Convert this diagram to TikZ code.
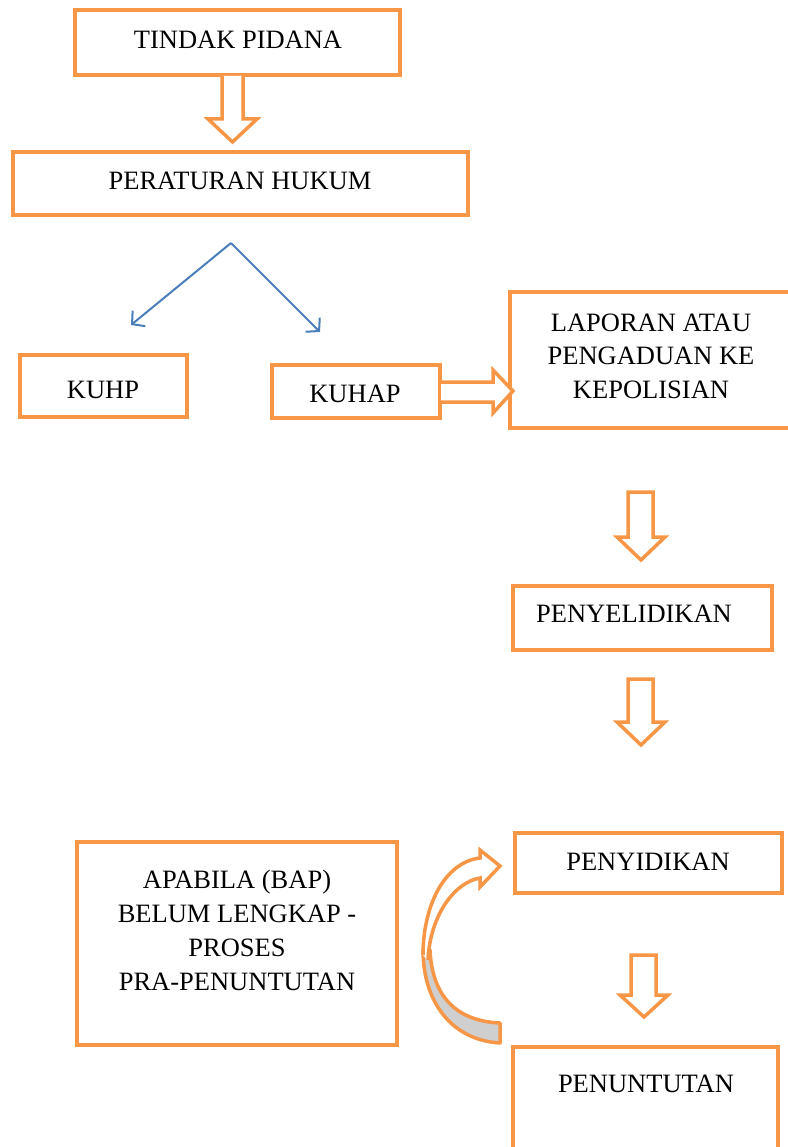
\documentclass[tikz,border=0pt]{standalone}
\usepackage{fontspec}
\setmainfont{Liberation Serif}
\usetikzlibrary{arrows.meta}
\definecolor{org}{HTML}{F79646}
\definecolor{blu}{HTML}{4A7EBB}
\definecolor{fold}{HTML}{CFCFCF}
\begin{document}
\begin{tikzpicture}[x=1pt,y=-1pt,
  box/.style={draw=org,line width=4pt,fill=white},
  txt/.style={anchor=base,inner sep=0pt,font=\fontsize{26.5}{34}\selectfont,align=center},
  blk/.style={draw=org,line width=3.5pt,fill=white,line join=miter},
  bl/.style={draw=blu,line width=2pt,-{Straight Barb[length=9pt,width=20pt,line width=2pt]}}]
\useasboundingbox (0,0) rectangle (787,1147);
% boxes
\draw[box] (75,10) rectangle (400,75);
\draw[box] (13,152) rectangle (468,215);
\draw[box] (20,355) rectangle (187,417);
\draw[box] (272,365) rectangle (440,418);
\draw[box] (510,292) rectangle (792,428);
\draw[box] (513,586) rectangle (772,650);
\draw[box] (515,833) rectangle (782,893);
\draw[box] (77,842) rectangle (397,1045);
\draw[box] (513,1047) rectangle (778,1160);
% texts
\node[txt] (tp) at (238,49) {TINDAK PIDANA};
\node[txt] (ph) at (240,190) {PERATURAN HUKUM};
\node[txt] (kuhp) at (103,398) {KUHP};
\node[txt] (kuhap) at (355,402) {KUHAP};
\node[txt] (lap1) at (651,331) {LAPORAN ATAU};
\node[txt] (lap2) at (651,364) {PENGADUAN KE};
\node[txt] (lap3) at (651,398) {KEPOLISIAN};
\node[txt] (pl) at (634,622) {PENYELIDIKAN};
\node[txt] (pd) at (648,870) {PENYIDIKAN};
\node[txt] (ap1) at (237,888) {APABILA (BAP)};
\node[txt] (ap2) at (237,922) {BELUM LENGKAP -};
\node[txt] (ap3) at (237,956) {PROSES};
\node[txt] (ap4) at (237,990) {PRA-PENUNTUTAN};
\node[txt] (pt) at (646,1092) {PENUNTUTAN};
% block arrows
\draw[blk] (222,76) -- (222,119) -- (208,119) -- (232.5,142) -- (257,119) -- (243,119) -- (243,76);
\draw[blk] (628,492) -- (628,537) -- (617,537) -- (641,560) -- (665,537) -- (653,537) -- (653,492) -- cycle;
\draw[blk] (628,679) -- (628,722) -- (617,722) -- (641,745) -- (665,722) -- (653,722) -- (653,679) -- cycle;
\draw[blk] (631,955) -- (631,995) -- (620,995) -- (644,1017) -- (668,995) -- (656,995) -- (656,955) -- cycle;
\draw[blk] (441,382) -- (493,382) -- (493,370) -- (513,391) -- (493,413) -- (493,402) -- (441,402);
% blue arrows
\coordinate (split) at (231,243);
\coordinate (kuhpend) at (131,325);
\coordinate (kuhapend) at (320,332);
\draw[bl] (split) -- (kuhpend);
\draw[bl] (split) -- (kuhapend);
% curved arrow
\filldraw[draw=org,line width=3.5pt,fill=fold,line join=round]
  (500,1043) .. controls (450,1040) and (423,1000) .. (423,950)
  -- (430,950) .. controls (432,995) and (455,1021) .. (500,1023) -- cycle;
\filldraw[draw=org,line width=3.5pt,fill=white,line join=miter]
  (423,955) .. controls (423,905) and (445,862) .. (480,858)
  -- (480,850) -- (500,866) -- (480,887) -- (480,878)
  .. controls (455,882) and (430,915) .. (428,960);
\end{tikzpicture}
\end{document}
